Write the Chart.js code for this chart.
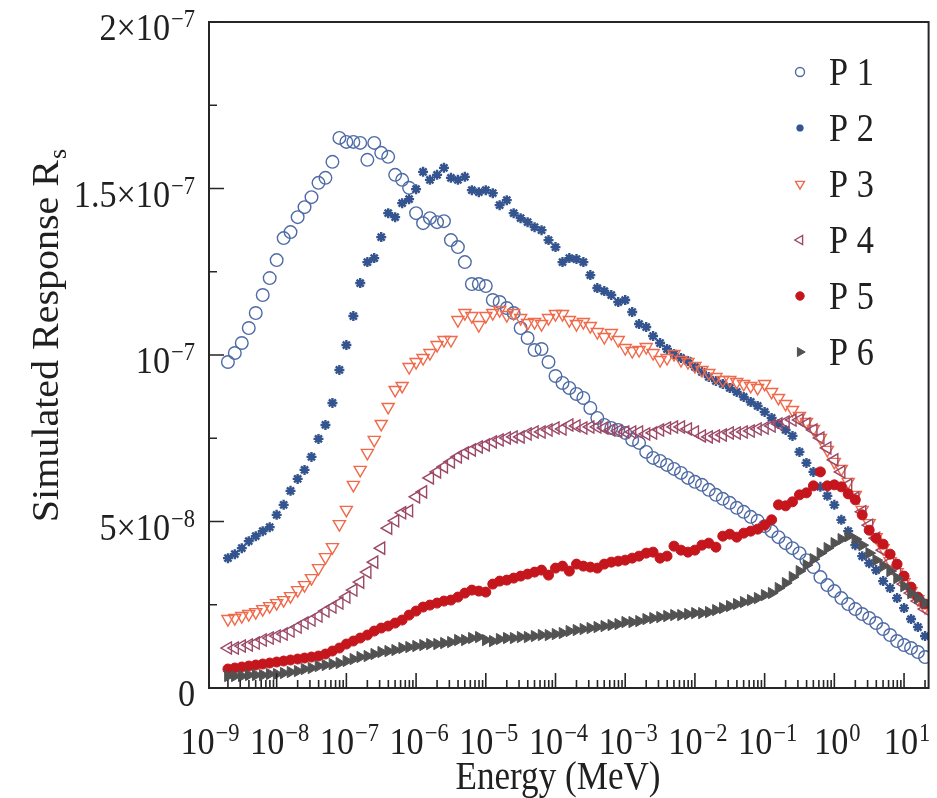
<!DOCTYPE html>
<html>
<head>
<meta charset="utf-8">
<script src="https://cdn.jsdelivr.net/npm/chart.js@4.4.1/dist/chart.umd.min.js"></script>
<style>
  html, body { margin: 0; padding: 0; background: #ffffff; }
  #wrap { width: 937px; height: 798px; }
</style>
</head>
<body>
<div id="wrap"><canvas id="chart" width="937" height="798"></canvas></div>
<script>
// Neutron energy grid (MeV), ten points per decade
const energies = [
  2.00e-9, 2.51e-9, 3.16e-9, 3.98e-9, 5.01e-9, 6.31e-9, 7.94e-9,
  1.00e-8, 1.26e-8, 1.58e-8, 2.00e-8, 2.51e-8, 3.16e-8, 3.98e-8, 5.01e-8, 6.31e-8, 7.94e-8,
  1.00e-7, 1.26e-7, 1.58e-7, 2.00e-7, 2.51e-7, 3.16e-7, 3.98e-7, 5.01e-7, 6.31e-7, 7.94e-7,
  1.00e-6, 1.26e-6, 1.58e-6, 2.00e-6, 2.51e-6, 3.16e-6, 3.98e-6, 5.01e-6, 6.31e-6, 7.94e-6,
  1.00e-5, 1.26e-5, 1.58e-5, 2.00e-5, 2.51e-5, 3.16e-5, 3.98e-5, 5.01e-5, 6.31e-5, 7.94e-5,
  1.00e-4, 1.26e-4, 1.58e-4, 2.00e-4, 2.51e-4, 3.16e-4, 3.98e-4, 5.01e-4, 6.31e-4, 7.94e-4,
  1.00e-3, 1.26e-3, 1.58e-3, 2.00e-3, 2.51e-3, 3.16e-3, 3.98e-3, 5.01e-3, 6.31e-3, 7.94e-3,
  1.00e-2, 1.26e-2, 1.58e-2, 2.00e-2, 2.51e-2, 3.16e-2, 3.98e-2, 5.01e-2, 6.31e-2, 7.94e-2,
  1.00e-1, 1.26e-1, 1.58e-1, 2.00e-1, 2.51e-1, 3.16e-1, 3.98e-1, 5.01e-1, 6.31e-1, 7.94e-1,
  1.00e0, 1.26e0, 1.58e0, 2.00e0, 2.51e0, 3.16e0, 3.98e0, 5.01e0, 6.31e0, 7.94e0,
  1.00e1, 1.26e1, 1.58e1, 2.00e1
];

// Simulated response of each position, in units of 1e-8
const p1 = [
  9.79, 10.06, 10.36, 10.81, 11.26, 11.80, 12.31, 12.85, 13.51, 13.69,
  14.14, 14.44, 14.74, 15.17, 15.32, 15.80, 16.52, 16.40, 16.40, 16.37,
  15.86, 16.37, 16.07, 15.95, 15.41, 15.26, 15.02, 14.26, 13.96, 14.11,
  13.99, 14.02, 13.45, 13.24, 12.79, 12.13, 12.13, 12.07, 11.65, 11.59,
  11.41, 11.26, 10.81, 10.51, 10.15, 10.18, 9.79, 9.37, 9.16, 9.01,
  8.83, 8.71, 8.41, 8.11, 7.90, 7.81, 7.75, 7.66, 7.45, 7.36,
  7.09, 6.91, 6.82, 6.70, 6.58, 6.46, 6.31, 6.19, 6.10, 5.95,
  5.80, 5.68, 5.56, 5.41, 5.29, 5.14, 5.02, 4.86, 4.71, 4.53,
  4.35, 4.20, 4.05, 3.84, 3.63, 3.33, 3.09, 2.91, 2.70, 2.52,
  2.37, 2.22, 2.10, 1.95, 1.77, 1.59, 1.41, 1.29, 1.20, 1.08,
  0.93
];
const p2 = [
  3.90, 4.02, 4.20, 4.41, 4.56, 4.71, 4.83, 5.20, 5.50, 5.92,
  6.28, 6.55, 6.94, 7.48, 7.90, 8.56, 9.55, 10.30, 11.17, 12.16,
  12.79, 12.91, 13.54, 14.26, 14.14, 14.56, 14.68, 14.98, 15.50, 15.26,
  15.41, 15.62, 15.32, 15.26, 15.35, 14.95, 14.89, 14.95, 14.86, 14.50,
  14.65, 14.26, 14.11, 13.99, 13.84, 13.75, 13.45, 13.24, 12.79, 12.91,
  12.88, 12.79, 12.40, 12.01, 11.92, 11.80, 11.59, 11.65, 11.29, 10.93,
  10.84, 10.57, 10.36, 10.18, 10.03, 9.91, 9.82, 9.64, 9.49, 9.34,
  9.22, 9.13, 9.01, 8.89, 8.74, 8.59, 8.47, 8.29, 8.11, 7.93,
  7.75, 7.57, 7.09, 6.76, 6.49, 6.04, 5.77, 5.50, 5.05, 4.71,
  4.29, 3.96, 3.75, 3.54, 3.21, 3.00, 2.70, 2.40, 2.07, 1.83,
  1.56
];
const p3 = [
  2.07, 2.10, 2.16, 2.22, 2.28, 2.37, 2.46, 2.55, 2.64, 2.76,
  2.94, 3.09, 3.30, 3.60, 3.93, 4.23, 4.92, 5.35, 6.10, 6.55,
  7.06, 7.45, 7.93, 8.44, 8.95, 9.07, 9.64, 9.79, 9.91, 10.06,
  10.30, 10.45, 10.45, 11.05, 11.26, 11.17, 10.90, 11.17, 11.26, 11.35,
  11.20, 11.26, 11.11, 10.96, 10.99, 10.93, 11.11, 11.23, 11.23, 11.05,
  10.93, 10.99, 10.87, 10.69, 10.54, 10.66, 10.45, 10.21, 10.12, 10.15,
  10.24, 10.06, 9.85, 9.91, 10.03, 9.85, 9.79, 9.67, 9.55, 9.46,
  9.34, 9.25, 9.25, 9.19, 9.13, 9.07, 9.01, 9.13, 8.89, 8.71,
  8.53, 8.35, 8.17, 7.99, 7.78, 7.51, 7.15, 6.79, 6.58, 6.19,
  5.80, 5.35, 4.95, 4.53, 4.20, 3.81, 3.48, 3.18, 2.91, 2.67,
  2.43
];
const p4 = [
  1.20, 1.20, 1.26, 1.29, 1.35, 1.44, 1.50, 1.56, 1.62, 1.71,
  1.83, 1.95, 2.04, 2.16, 2.31, 2.43, 2.55, 2.73, 2.94, 3.18,
  3.48, 3.78, 4.20, 4.80, 5.02, 5.26, 5.32, 5.74, 5.89, 6.31,
  6.49, 6.64, 6.79, 6.94, 7.06, 7.15, 7.24, 7.30, 7.39, 7.45,
  7.51, 7.54, 7.54, 7.63, 7.69, 7.69, 7.75, 7.81, 7.78, 7.90,
  7.87, 7.81, 7.84, 7.84, 7.81, 7.75, 7.72, 7.69, 7.69, 7.69,
  7.63, 7.66, 7.75, 7.81, 7.84, 7.84, 7.78, 7.69, 7.57, 7.54,
  7.57, 7.60, 7.66, 7.66, 7.69, 7.72, 7.78, 7.81, 7.87, 7.93,
  7.99, 8.05, 8.05, 7.93, 7.75, 7.51, 7.21, 6.85, 6.49, 6.10,
  5.71, 5.29, 4.89, 4.50, 4.14, 3.78, 3.45, 3.12, 2.85, 2.61,
  2.37
];
const p5 = [
  0.57, 0.60, 0.63, 0.66, 0.69, 0.72, 0.75, 0.78, 0.81, 0.84,
  0.87, 0.90, 0.93, 0.96, 1.02, 1.11, 1.20, 1.32, 1.41, 1.50,
  1.59, 1.71, 1.80, 1.86, 1.95, 2.04, 2.19, 2.31, 2.43, 2.49,
  2.55, 2.61, 2.64, 2.73, 2.85, 2.94, 2.91, 2.88, 3.12, 3.21,
  3.24, 3.30, 3.36, 3.42, 3.48, 3.54, 3.39, 3.60, 3.66, 3.51,
  3.72, 3.66, 3.63, 3.60, 3.72, 3.78, 3.81, 3.84, 3.90, 3.96,
  4.05, 4.08, 3.90, 3.96, 4.26, 4.14, 4.08, 4.14, 4.29, 4.35,
  4.23, 4.56, 4.62, 4.53, 4.65, 4.71, 4.77, 4.89, 5.05, 5.50,
  5.47, 5.59, 5.80, 5.86, 6.07, 6.49, 6.07, 6.10, 6.04, 5.83,
  5.65, 5.20, 4.74, 4.50, 4.32, 4.02, 3.72, 3.36, 3.03, 2.73,
  2.52
];
const p6 = [
  0.36, 0.36, 0.36, 0.39, 0.39, 0.39, 0.42, 0.42, 0.45, 0.48,
  0.51, 0.57, 0.60, 0.66, 0.69, 0.72, 0.75, 0.81, 0.87, 0.93,
  0.96, 1.02, 1.08, 1.11, 1.14, 1.20, 1.23, 1.26, 1.29, 1.32,
  1.32, 1.35, 1.38, 1.44, 1.44, 1.50, 1.53, 1.44, 1.41, 1.47,
  1.50, 1.50, 1.53, 1.53, 1.56, 1.59, 1.59, 1.62, 1.65, 1.71,
  1.74, 1.77, 1.80, 1.83, 1.86, 1.89, 1.92, 1.98, 1.98, 2.01,
  2.07, 2.10, 2.13, 2.16, 2.19, 2.19, 2.22, 2.25, 2.25, 2.28,
  2.34, 2.40, 2.46, 2.52, 2.58, 2.64, 2.70, 2.79, 2.85, 3.00,
  3.15, 3.33, 3.51, 3.69, 3.87, 4.05, 4.20, 4.35, 4.47, 4.56,
  4.47, 4.29, 4.05, 3.84, 3.66, 3.51, 3.30, 3.06, 2.85, 2.70,
  2.55
];
const seriesNames = ['P 1', 'P 2', 'P 3', 'P 4', 'P 5', 'P 6'];
const responseUnit = 1e-8;

// Axis ticks and their labels ("^" separates the superscript)
const yMajorTicks = [0, 5e-8, 1e-7, 1.5e-7, 2e-7];
const yTickLabels = ['0', '5×10^−8', '10^−7', '1.5×10^−7', '2×10^−7'];
const yMinorTicks = [2.5e-8, 7.5e-8, 1.25e-7, 1.75e-7];
const xTickDecades = [-9, -8, -7, -6, -5, -4, -3, -2, -1, 0, 1];
const xTickLabels = ['10^−9', '10^−8', '10^−7', '10^−6', '10^−5', '10^−4',
                     '10^−3', '10^−2', '10^−1', '10^0', '10^1'];
const xTitle = 'Energy (MeV)';
const yTitle = 'Simulated Response R';
const yTitleSub = 's';

// Marker appearance per series
const markerStyles = [
  { style: 'circle',   rot: 0,    r: 6.3, lr: 4.5, bw: 1.4, color: '#4f6ba6', filled: false },
  { style: 'star',     rot: 0,    r: 5.0, lr: 3.6, bw: 2.4, color: '#34548f', filled: true  },
  { style: 'triangle', rot: 180,  r: 7.0, lr: 5.2, bw: 1.4, color: '#f0694a', filled: false },
  { style: 'triangle', rot: -90,  r: 7.0, lr: 5.2, bw: 1.4, color: '#9c4866', filled: false },
  { style: 'circle',   rot: 0,    r: 5.0, lr: 4.2, bw: 1.0, color: '#c4161c', filled: true  },
  { style: 'triangle', rot: 90,   r: 6.5, lr: 5.2, bw: 1.0, color: '#525252', filled: true  }
];

const FONT = '"Liberation Serif", "Times New Roman", serif';
const INK = '#202020';
const SX = 0.9;         // narrow type width
const MAIN = 38, SUP = 25, RAISE = 13;

function drawNarrow(ctx, text, x, y, size, sx) {
  ctx.save();
  ctx.font = size + 'px ' + FONT;
  ctx.textAlign = 'left';
  ctx.textBaseline = 'alphabetic';
  ctx.fillStyle = INK;
  ctx.translate(x, y);
  ctx.scale(sx, 1);
  ctx.fillText(text, 0, 0);
  ctx.restore();
}
function narrowWidth(ctx, text, size, sx) {
  ctx.save();
  ctx.font = size + 'px ' + FONT;
  const w = ctx.measureText(text).width * sx;
  ctx.restore();
  return w;
}
function drawPowerLabel(ctx, label, x, baseline, align) {
  const parts = label.split('^');
  const base = parts[0], exp = parts[1];
  const wb = narrowWidth(ctx, base, MAIN, SX);
  const we = exp ? narrowWidth(ctx, exp, SUP, SX) + 1 : 0;
  const total = wb + we;
  const start = align === 'right' ? x - total : (align === 'center' ? x - total / 2 : x);
  drawNarrow(ctx, base, start, baseline, MAIN, SX);
  if (exp) drawNarrow(ctx, exp, start + wb + 1, baseline - RAISE, SUP, SX);
}

// Frame, inward ticks, tick labels, axis titles and the in-plot legend
const decorations = {
  id: 'decorations',
  afterDatasetsDraw(chart) {
    const ctx = chart.ctx;
    const a = chart.chartArea;
    const xs = chart.scales.x, ys = chart.scales.y;
    ctx.save();
    ctx.strokeStyle = '#262626';
    ctx.lineWidth = 2;
    ctx.strokeRect(a.left, a.top, a.right - a.left, a.bottom - a.top);

    ctx.lineWidth = 1.6;
    ctx.beginPath();
    yMajorTicks.forEach(v => {
      const y = ys.getPixelForValue(v);
      ctx.moveTo(a.left, y); ctx.lineTo(a.left + 15, y);
    });
    yMinorTicks.forEach(v => {
      const y = ys.getPixelForValue(v);
      ctx.moveTo(a.left, y); ctx.lineTo(a.left + 8, y);
    });
    xTickDecades.forEach(d => {
      for (let m = 1; m <= 9; m++) {
        const v = m * Math.pow(10, d);
        if (v < xs.min || v > xs.max) continue;
        const x = xs.getPixelForValue(v);
        ctx.moveTo(x, a.bottom); ctx.lineTo(x, a.bottom - (m === 1 ? 15 : 8));
      }
    });
    ctx.stroke();

    yMajorTicks.forEach((v, i) => {
      drawPowerLabel(ctx, yTickLabels[i], 195, ys.getPixelForValue(v) + 18, 'right');
    });
    xTickDecades.forEach((d, i) => {
      drawPowerLabel(ctx, xTickLabels[i], xs.getPixelForValue(Math.pow(10, d)) + 3, 754, 'center');
    });

    // x title
    const wx = narrowWidth(ctx, xTitle, 39, 0.9);
    drawNarrow(ctx, xTitle, 558 - wx / 2, 789, 39, 0.9);

    // y title, rotated, with subscript
    ctx.save();
    ctx.translate(58, 336);
    ctx.rotate(-Math.PI / 2);
    ctx.scale(1, 0.95);
    ctx.font = '40px ' + FONT;
    const wMain = ctx.measureText(yTitle).width;
    ctx.font = '26px ' + FONT;
    const wSub = ctx.measureText(yTitleSub).width;
    const x0 = -(wMain + wSub) / 2;
    ctx.fillStyle = INK;
    ctx.textBaseline = 'alphabetic';
    ctx.textAlign = 'left';
    ctx.font = '40px ' + FONT;
    ctx.fillText(yTitle, x0, 0);
    ctx.font = '26px ' + FONT;
    ctx.fillText(yTitleSub, x0 + wMain + 1, 8);
    ctx.restore();

    // legend
    const rows = [72, 128, 184, 240, 296, 352];
    markerStyles.forEach((s, i) => {
      ctx.save();
      ctx.strokeStyle = s.color;
      ctx.fillStyle = s.filled ? s.color : 'rgba(0,0,0,0)';
      ctx.lineWidth = s.bw;
      Chart.helpers.drawPoint(ctx, { pointStyle: s.style, rotation: s.rot, radius: s.lr, borderWidth: s.bw }, 800, rows[i]);
      ctx.restore();
      drawNarrow(ctx, seriesNames[i], 829, rows[i] + 13, 39, 0.88);
    });
    ctx.restore();
  }
};

const seriesValues = [p1, p2, p3, p4, p5, p6];
const datasets = seriesValues.map((vals, k) => {
  const s = markerStyles[k];
  return {
    label: seriesNames[k],
    data: vals.map((v, i) => ({ x: energies[i], y: v * responseUnit })),
    showLine: false,
    pointStyle: s.style,
    pointRotation: s.rot,
    pointRadius: s.r,
    pointHoverRadius: s.r,
    pointBorderWidth: s.bw,
    pointBorderColor: s.color,
    pointBackgroundColor: s.filled ? s.color : 'rgba(0,0,0,0)',
    order: 6 - k
  };
});

new Chart(document.getElementById('chart'), {
  type: 'scatter',
  data: { datasets },
  options: {
    responsive: false,
    animation: false,
    events: [],
    layout: { padding: { top: 22, right: 8, bottom: 0, left: 0 } },
    plugins: { legend: { display: false }, tooltip: { enabled: false } },
    scales: {
      x: {
        type: 'logarithmic', min: 1.07e-9, max: 22.5,
        grid: { display: false, drawTicks: false },
        border: { display: false },
        ticks: { display: false },
        afterFit(scale) { scale.height = 110; }
      },
      y: {
        type: 'linear', min: 0, max: 2e-7,
        grid: { display: false, drawTicks: false },
        border: { display: false },
        ticks: { display: false },
        afterFit(scale) { scale.width = 209; }
      }
    }
  },
  plugins: [decorations]
});
</script>
</body>
</html>
